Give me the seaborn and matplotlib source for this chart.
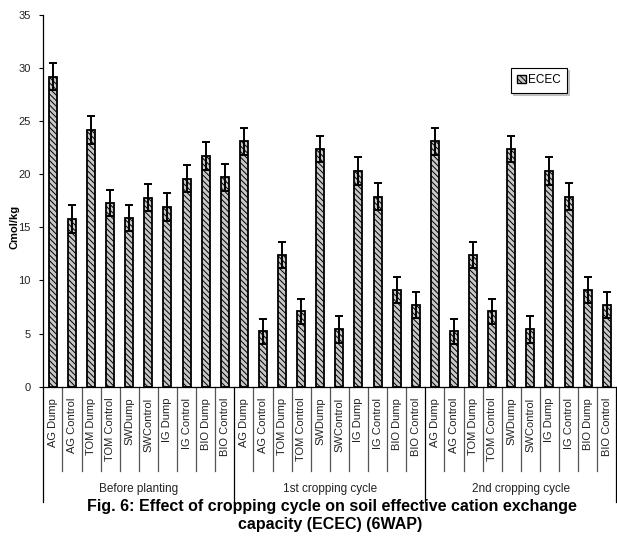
import matplotlib
matplotlib.use('Agg')
import matplotlib.pyplot as plt
import matplotlib.patches as mpatches
import seaborn as sns
import numpy as np
import pandas as pd

# categories
groups = ['Before planting', '1st cropping cycle', '2nd cropping cycle']
treatments = ['AG Dump', 'AG Control', 'TOM Dump', 'TOM Control', 'SWDump',
              'SWControl', 'IG Dump', 'IG Control', 'BIO Dump', 'BIO Control']

# ECEC (Cmol/kg) per group
before_planting = [29.2, 15.8, 24.2, 17.3, 15.9, 17.8, 16.9, 19.6, 21.7, 19.7]
first_cycle = [23.1, 5.2, 12.4, 7.1, 22.4, 5.4, 20.3, 17.9, 9.1, 7.7]
second_cycle = [23.1, 5.2, 12.4, 7.1, 22.4, 5.4, 20.3, 17.9, 9.1, 7.7]

# error bars (+/-)
err_before = [1.3, 1.3, 1.3, 1.2, 1.2, 1.3, 1.3, 1.3, 1.3, 1.3]
err_first = [1.3, 1.2, 1.2, 1.2, 1.2, 1.3, 1.3, 1.3, 1.2, 1.2]
err_second = [1.3, 1.2, 1.2, 1.2, 1.2, 1.3, 1.3, 1.3, 1.2, 1.2]

y_ticks = [0, 5, 10, 15, 20, 25, 30, 35]

values = before_planting + first_cycle + second_cycle
errors = err_before + err_first + err_second
df = pd.DataFrame({
    'group': np.repeat(groups, len(treatments)),
    'treatment': treatments * len(groups),
    'ECEC': values,
    'err': errors,
})
df['key'] = df['group'] + '|' + df['treatment']

plt.rcParams['font.family'] = ['Liberation Sans', 'DejaVu Sans']
plt.rcParams['hatch.linewidth'] = 0.7

fig = plt.figure(figsize=(6.17, 5.37), dpi=100)
ax = fig.add_axes([43.3 / 617, 1 - 386.7 / 537, 573 / 617, 371.7 / 537])

sns.barplot(data=df, x='key', y='ECEC', order=list(df['key']), width=0.42,
            color='#c8c8c8', edgecolor='black', linewidth=1.3,
            hatch='\\' * 6, errorbar=None, ax=ax)
ax.errorbar(np.arange(len(df)), df['ECEC'], yerr=df['err'], fmt='none',
            ecolor='black', elinewidth=1.4, capsize=3.2, capthick=1.4, zorder=5)

ax.set_xlim(-0.5, len(df) - 0.5)
ax.set_ylim(0, 35)
ax.set_yticks(y_ticks)
ax.tick_params(axis='y', direction='out', length=3, width=0.8, labelsize=8,
               pad=6, labelcolor='#222222')
ax.set_xticks(np.arange(len(df)))
ax.set_xticklabels(df['treatment'], rotation=90, fontsize=8, color='#222222')
ax.tick_params(axis='x', length=0, pad=8)
ax.set_xlabel('')
ax.set_ylabel('Cmol/kg', fontsize=8, fontweight='bold', labelpad=0)
ax.yaxis.set_label_coords(-0.042, 0.43)
for s in ['top', 'right']:
    ax.spines[s].set_visible(False)
for s in ['left', 'bottom']:
    ax.spines[s].set_linewidth(0.9)
    ax.spines[s].set_color('black')

# multi-level category axis lines
trans = ax.get_xaxis_transform()
for b in np.arange(-0.5, len(df), 1.0):
    if (b + 0.5) % len(treatments) == 0:
        ax.plot([b, b], [0, -0.31], transform=trans, color='black', lw=0.9,
                clip_on=False)
    else:
        ax.plot([b, b], [0, -0.226], transform=trans, color='#555555', lw=0.9,
                clip_on=False)
for i, g in enumerate(groups):
    center = i * len(treatments) + (len(treatments) - 1) / 2
    ax.text(center, -0.275, g, transform=trans, ha='center', va='center',
            fontsize=8.5, color='#222222')

handle = mpatches.Patch(facecolor='#c8c8c8', edgecolor='black', hatch='\\' * 6,
                        label='ECEC')
leg = ax.legend(handles=[handle], loc='upper left', bbox_to_anchor=(0.816, 0.858),
                borderaxespad=0, fontsize=8.5, frameon=True, fancybox=False,
                handlelength=0.7, handleheight=0.7, handletextpad=0.2,
                borderpad=0.55, shadow={'ox': 1.5, 'oy': -1.5, 'color': '0.6'})
leg.get_frame().set_edgecolor('black')
leg.get_frame().set_linewidth(0.8)
leg.get_frame().set_alpha(1)

fig.text(332 / 617, 1 - 507 / 537, 'Fig. 6: Effect of cropping cycle on soil effective cation exchange',
         ha='center', va='center', fontsize=11.5, fontweight='bold')
fig.text(330 / 617, 1 - 524 / 537, 'capacity (ECEC) (6WAP)',
         ha='center', va='center', fontsize=11.5, fontweight='bold')

fig.savefig('out.png', dpi=100)
